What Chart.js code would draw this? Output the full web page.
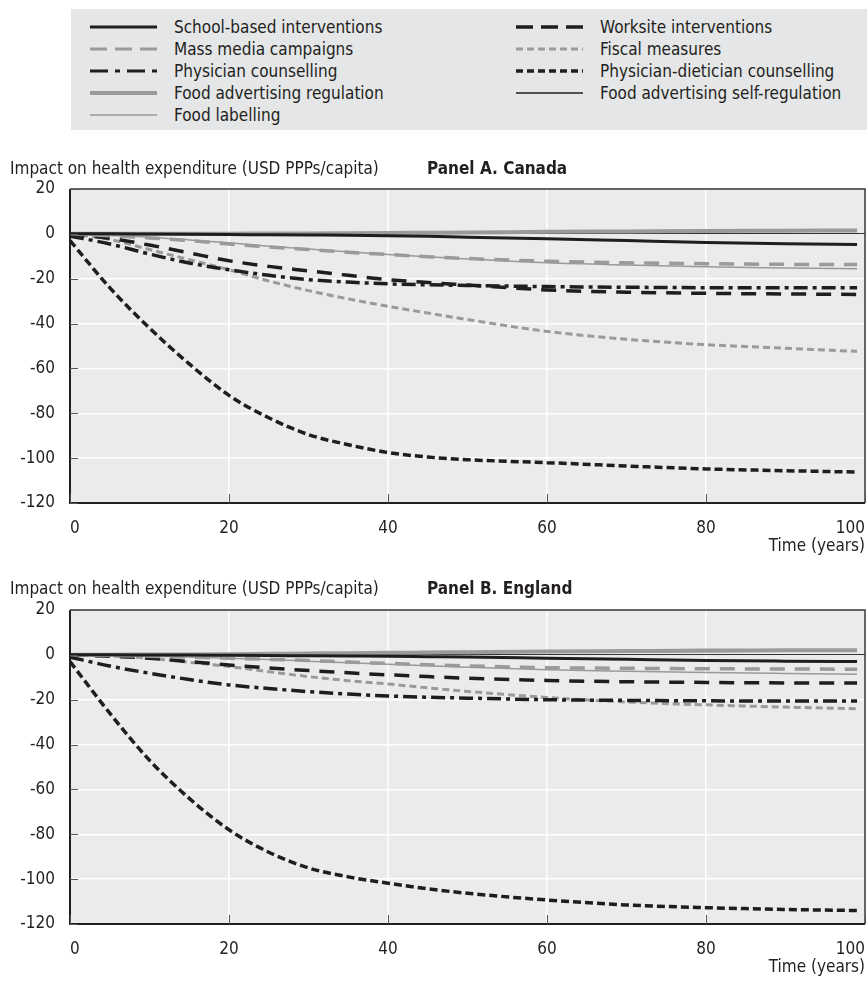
<!DOCTYPE html>
<html><head><meta charset="utf-8">
<script src="https://cdn.jsdelivr.net/npm/chart.js@4.4.1/dist/chart.umd.min.js"></script>
<style>
body{margin:0;background:#fff;width:867px;height:982px;position:relative;overflow:hidden;font-family:'Liberation Sans Narrow','DejaVu Sans Condensed','Arial Narrow',sans-serif;color:#231f20;}
#legend{position:absolute;left:71px;top:9px;width:796px;height:121px;background:#e5e6e7;}
.item{position:absolute;height:22px;display:flex;align-items:center;font-size:17px;white-space:nowrap;}
.item svg{margin-right:17px;flex:none;}
.ttl{position:absolute;height:20px;line-height:20px;font-size:17px;white-space:nowrap;}
.bold{font-weight:bold;}
canvas{position:absolute;left:0;}
</style></head>
<body>
<div id="legend"></div>
<canvas id="chartA" width="867" height="390" style="top:170px"></canvas>
<canvas id="chartB" width="867" height="390" style="top:591px"></canvas>
<div class="ttl" style="left:10px;top:158px">Impact on health expenditure (USD PPPs/capita)</div>
<div class="ttl bold" style="left:427px;top:158px">Panel A. Canada</div>
<div class="ttl" style="left:10px;top:578px">Impact on health expenditure (USD PPPs/capita)</div>
<div class="ttl bold" style="left:427px;top:578px">Panel B. England</div>
<script>
// ---- data ----
const years = [0,5,10,15,20,25,30,35,40,45,50,60,70,80,90,99];
const xTicks = [0,20,40,60,80,100];
const yTicks = [20,0,-20,-40,-60,-80,-100,-120];
const seriesNames = [
  'School-based interventions','Mass media campaigns','Physician counselling',
  'Food advertising regulation','Food labelling','Worksite interventions',
  'Fiscal measures','Physician-dietician counselling','Food advertising self-regulation'
];
// Panel A. Canada
const caSchool   = [0,0,-0.1,-0.2,-0.3,-0.4,-0.5,-0.6,-0.8,-1.1,-1.5,-2.2,-3,-3.8,-4.4,-4.8];
const caMedia    = [0,-0.8,-1.8,-3,-4.5,-5.8,-7,-8.2,-9.2,-10.2,-11,-12.2,-12.9,-13.3,-13.6,-13.7];
const caPhys     = [-1,-4.5,-9,-13,-16,-18.5,-20.4,-21.5,-22.3,-22.7,-23,-23.5,-23.8,-24,-24,-24];
const caAdReg    = [0,0,0,0.05,0.1,0.15,0.2,0.3,0.4,0.5,0.6,0.9,1.1,1.3,1.4,1.5];
const caLabel    = [0,-0.7,-1.5,-2.7,-4,-5.5,-6.8,-8,-9.2,-10.2,-11.2,-12.9,-13.9,-14.7,-15.2,-15.6];
const caWork     = [0,-2,-5,-8.5,-12,-14.5,-16.5,-18.5,-20.4,-21.7,-22.8,-25,-26,-26.5,-26.8,-27];
const caFiscal   = [0,-2.5,-7,-11.5,-16,-21,-25.3,-29,-32.3,-35.3,-38.2,-43.5,-47,-49.4,-51,-52.4];
const caDiet     = [-3,-24,-42,-58,-72,-82,-89.5,-94,-97.5,-99.5,-100.7,-102,-103.5,-104.8,-105.6,-106.2];
const caSelfReg  = [0,0,0,0,0,0.1,0.2,0.25,0.3,0.45,0.6,1,1.3,1.5,1.7,1.8];
// Panel B. England
const enSchool   = [0,0,-0.05,-0.1,-0.2,-0.3,-0.4,-0.5,-0.6,-0.8,-1,-1.5,-2,-2.5,-2.8,-3];
const enMedia    = [0,-0.3,-0.6,-1,-1.5,-2,-2.5,-3.2,-3.8,-4.4,-4.9,-5.7,-6,-6.2,-6.3,-6.4];
const enPhys     = [-1,-5,-8.2,-11,-13.4,-15,-16.4,-17.5,-18.3,-18.9,-19.3,-20,-20.3,-20.5,-20.6,-20.6];
const enAdReg    = [0,0.1,0.15,0.2,0.3,0.45,0.6,0.75,0.9,1.05,1.2,1.5,1.7,1.9,2,2.1];
const enLabel    = [0,-0.2,-0.5,-1,-1.5,-2.1,-2.8,-3.5,-4.2,-4.9,-5.5,-6.6,-7.3,-7.9,-8.3,-8.6];
const enWork     = [0,-0.6,-1.5,-3,-4.5,-5.8,-7,-8,-8.9,-9.7,-10.4,-11.4,-12,-12.3,-12.5,-12.6];
const enFiscal   = [0,-0.5,-1.5,-3.3,-5.2,-7.5,-9.7,-11.5,-13,-14.7,-16.3,-19,-21,-22.3,-23.3,-24];
const enDiet     = [-3,-26,-47,-64,-78,-88,-95,-99,-101.8,-104.3,-106.3,-109.3,-111.5,-112.7,-113.5,-114];
const enSelfReg  = [0,0.05,0.1,0.2,0.3,0.4,0.5,0.65,0.8,0.9,1,1.2,1.35,1.5,1.6,1.7];

const canadaSeries  = [caSchool,caMedia,caPhys,caAdReg,caLabel,caWork,caFiscal,caDiet,caSelfReg];
const englandSeries = [enSchool,enMedia,enPhys,enAdReg,enLabel,enWork,enFiscal,enDiet,enSelfReg];

// ---- styles ----
const GREY = '#9a9a9a', BLACK = '#1e1e1e', TEXT = '#231f20';
const styles = [
  {color:BLACK, width:3,   dash:[],          lw:3,   ldash:[]},
  {color:GREY,  width:3.5, dash:[15,10],     lw:3,   ldash:[17,8]},
  {color:BLACK, width:3.5, dash:[14,5,4,5],  lw:3,   ldash:[18,7,5,7]},
  {color:GREY,  width:4,   dash:[],          lw:4,   ldash:[]},
  {color:GREY,  width:1.5, dash:[],          lw:1.5, ldash:[]},
  {color:BLACK, width:3.5, dash:[15,10],     lw:3.5, ldash:[17,8]},
  {color:GREY,  width:3,   dash:[7,4],       lw:3,   ldash:[7,4]},
  {color:BLACK, width:3.5, dash:[8,4],       lw:3.5, ldash:[7,4]},
  {color:BLACK, width:1.3, dash:[],          lw:1.5, ldash:[]}
];
const legendPos = [[19,7],[19,29],[19,51],[19,73],[19,95],[445,7],[445,29],[445,51],[445,73]];

// ---- legend ----
const legend = document.getElementById('legend');
seriesNames.forEach((name,i)=>{
  const s = styles[i];
  const d = document.createElement('div');
  d.className = 'item';
  d.style.left = legendPos[i][0]+'px';
  d.style.top = legendPos[i][1]+'px';
  d.innerHTML = '<svg width="67" height="10"><line x1="0" y1="5" x2="67" y2="5" stroke="'+s.color+
    '" stroke-width="'+s.lw+'"'+(s.ldash.length?' stroke-dasharray="'+s.ldash.join(',')+'"':'')+'/></svg>';
  const t = document.createElement('span');
  t.textContent = name;
  d.appendChild(t);
  legend.appendChild(d);
});

// ---- charts ----
Chart.defaults.font.family = "'Liberation Sans Narrow','DejaVu Sans Condensed','Arial Narrow',sans-serif";
Chart.defaults.font.size = 17;
Chart.defaults.color = TEXT;

const framePlugin = {
  id:'frame',
  beforeDraw(chart){
    const {ctx, chartArea:a} = chart;
    ctx.save();
    ctx.fillStyle = '#ebebeb';
    ctx.fillRect(a.left, a.top, a.right-a.left, a.bottom-a.top);
    ctx.restore();
  },
  afterDatasetsDraw(chart){
    const {ctx, chartArea:a, scales} = chart;
    ctx.save();
    ctx.strokeStyle = '#333';
    ctx.lineWidth = 1.5;
    ctx.beginPath();
    ctx.moveTo(a.left, a.top); ctx.lineTo(a.right, a.top); ctx.lineTo(a.right, a.bottom);
    ctx.stroke();
    ctx.strokeStyle = TEXT;
    ctx.lineWidth = 2;
    ctx.beginPath();
    ctx.moveTo(a.left, a.top); ctx.lineTo(a.left, a.bottom); ctx.lineTo(a.right, a.bottom);
    ctx.stroke();
    ctx.lineWidth = 1;
    ctx.strokeStyle = '#555';
    ctx.beginPath();
    yTicks.forEach(v=>{
      const y = Math.round(scales.y.getPixelForValue(v))+0.5;
      ctx.moveTo(a.left, y); ctx.lineTo(a.left+8, y);
    });
    xTicks.forEach(v=>{
      const x = Math.round(scales.x.getPixelForValue(v))+0.5;
      ctx.moveTo(x, a.bottom); ctx.lineTo(x, a.bottom-9);
    });
    ctx.stroke();
    ctx.restore();
  }
};

function makeChart(id, list){
  const datasets = list.map((vals,i)=>({
    label: seriesNames[i],
    data: years.map((x,j)=>({x:x, y:vals[j]})),
    borderColor: styles[i].color,
    borderWidth: styles[i].width,
    borderDash: styles[i].dash,
    borderCapStyle: 'butt',
    pointRadius: 0,
    fill: false,
    cubicInterpolationMode: 'monotone'
  }));
  return new Chart(document.getElementById(id), {
    type:'line',
    data:{datasets},
    options:{
      responsive:false, animation:false, devicePixelRatio:1,
      layout:{padding:{top:19,right:2,left:0,bottom:0}},
      plugins:{legend:{display:false}, tooltip:{enabled:false}},
      scales:{
        x:{
          type:'linear', min:0, max:100,
          afterBuildTicks: s=>{ s.ticks = xTicks.map(v=>({value:v})); },
          afterFit: s=>{ s.height = 57; s.paddingLeft = 0; s.paddingRight = 0; },
          grid:{color:'#ffffff', lineWidth:1.5, drawTicks:false},
          border:{display:false},
          ticks:{align:'inner', padding:15, maxRotation:0, autoSkip:false},
          title:{display:true, text:'Time (years)', align:'end', padding:{top:0,bottom:3}}
        },
        y:{
          type:'linear', min:-120, max:20,
          afterBuildTicks: s=>{ s.ticks = yTicks.map(v=>({value:v})); },
          afterFit: s=>{ s.width = 70; s.paddingTop = 0; s.paddingBottom = 0; },
          grid:{
            color: c=> (c.tick && c.tick.value===0) ? '#333333' : '#ffffff',
            lineWidth: c=> (c.tick && c.tick.value===0) ? 1 : 1.5,
            drawTicks:false
          },
          border:{display:false},
          ticks:{padding:15}
        }
      }
    },
    plugins:[framePlugin]
  });
}
makeChart('chartA', canadaSeries);
makeChart('chartB', englandSeries);
</script>
</body></html>
